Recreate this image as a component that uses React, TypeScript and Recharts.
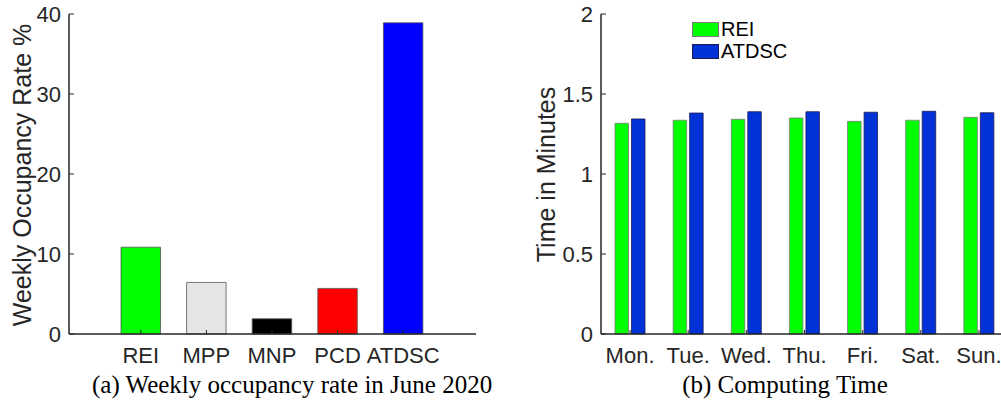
import React from 'react';
import { BarChart, Bar, XAxis, YAxis, Cell } from 'recharts';

// (a) weekly occupancy, June 2020
const methods = ['REI', 'MPP', 'MNP', 'PCD', 'ATDSC'];
const occupancy = [10.85, 6.45, 1.9, 5.7, 38.9];
const methodColors = ['#00ff00', '#e5e5e5', '#000000', '#ff0000', '#0000ff'];
const occupancyTicks = [0, 10, 20, 30, 40];

// (b) computing time
const days = ['Mon.', 'Tue.', 'Wed.', 'Thu.', 'Fri.', 'Sat.', 'Sun.'];
const reiTime = [1.317, 1.336, 1.342, 1.35, 1.329, 1.336, 1.354];
const atdscTime = [1.344, 1.381, 1.389, 1.389, 1.386, 1.392, 1.383];
const timeTicks = [0, 0.5, 1, 1.5, 2];
const timeSeries = [
  { key: 'rei', label: 'REI', fill: '#00ff00', edge: '#7a7a7a' },
  { key: 'atdsc', label: 'ATDSC', fill: '#0032d8', edge: '#1a1a50' },
];

const INK = '#262626';
const SANS = '"Liberation Sans", Arial, Helvetica, sans-serif';
const SERIF = '"Liberation Serif", "Times New Roman", serif';

const occData = methods.map((name, i) => ({ name, value: occupancy[i] }));
const timeData = days.map((day, i) => ({ day, rei: reiTime[i], atdsc: atdscTime[i] }));

const tickStyle = { fill: INK, fontSize: 22, fontFamily: SANS };

const axisTitle = (text: string, x: number, y: number) => () => (
  <text
    x={x}
    y={y}
    transform={`rotate(-90 ${x} ${y})`}
    textAnchor="middle"
    dominantBaseline="central"
    fill={INK}
    fontSize={25}
    fontFamily={SANS}
  >
    {text}
  </text>
);

const TimeLegend = () => (
  <div style={{ position: 'absolute', left: 692, top: 18, fontFamily: SANS, fontSize: 20, color: '#000' }}>
    {timeSeries.map((s) => (
      <div key={s.key} style={{ display: 'flex', alignItems: 'center', height: 22.6 }}>
        <span
          style={{
            display: 'inline-block',
            width: 27,
            height: 15,
            background: s.fill,
            border: `1px solid ${s.edge}`,
            boxSizing: 'border-box',
            marginRight: 2,
          }}
        />
        <span>{s.label}</span>
      </div>
    ))}
  </div>
);

const captionStyle: React.CSSProperties = {
  position: 'absolute',
  top: 371,
  textAlign: 'center',
  fontFamily: SERIF,
  fontSize: 25,
  color: '#000',
  whiteSpace: 'nowrap',
};

export default function App() {
  return (
    <div
      style={{
        position: 'absolute',
        left: 0,
        top: 0,
        width: 1001,
        height: 415,
        overflow: 'hidden',
        background: '#fff',
      }}
    >
      <div style={{ position: 'absolute', left: 0, top: 0 }}>
        <BarChart width={480} height={375} data={occData} margin={{ top: 14, right: 4, left: 0, bottom: 0 }}>
          <Bar dataKey="value" barSize={39.5} stroke="#555" strokeWidth={0.8} isAnimationActive={false}>
            {occData.map((d, i) => (
              <Cell key={d.name} fill={methodColors[i]} />
            ))}
          </Bar>
          <XAxis
            dataKey="name"
            type="category"
            padding={{ left: 39, right: 40 }}
            height={41}
            tickSize={-4}
            tickMargin={17}
            tick={tickStyle}
            axisLine={{ stroke: INK, strokeWidth: 1.5 }}
            tickLine={{ stroke: INK }}
            interval={0}
          />
          <YAxis
            width={69}
            domain={[0, 40]}
            ticks={occupancyTicks}
            tickSize={-5}
            tickMargin={13}
            tick={tickStyle}
            axisLine={{ stroke: INK, strokeWidth: 1.5 }}
            tickLine={{ stroke: INK }}
            label={axisTitle('Weekly Occupancy Rate %', 22, 175)}
          />
        </BarChart>
      </div>

      <div style={{ position: 'absolute', left: 520, top: 0 }}>
        <BarChart
          width={493}
          height={375}
          data={timeData}
          margin={{ top: 14, right: 5, left: 0, bottom: 0 }}
          barGap={3}
        >
          {timeSeries.map((s) => (
            <Bar
              key={s.key}
              dataKey={s.key}
              name={s.label}
              barSize={13.5}
              fill={s.fill}
              stroke={s.edge}
              strokeWidth={0.8}
              isAnimationActive={false}
            />
          ))}
          <XAxis
            dataKey="day"
            type="category"
            padding={{ left: 0, right: 0 }}
            height={41}
            tickSize={-4}
            tickMargin={17}
            tick={tickStyle}
            axisLine={{ stroke: INK, strokeWidth: 1.5 }}
            tickLine={{ stroke: INK }}
            interval={0}
          />
          <YAxis
            width={81}
            domain={[0, 2]}
            ticks={timeTicks}
            tickSize={-5}
            tickMargin={13}
            tick={tickStyle}
            axisLine={{ stroke: INK, strokeWidth: 1.5 }}
            tickLine={{ stroke: INK }}
            label={axisTitle('Time in Minutes', 26, 174.5)}
          />
        </BarChart>
      </div>

      <TimeLegend />

      <div style={{ ...captionStyle, left: 92, width: 400 }}>(a) Weekly occupancy rate in June 2020</div>
      <div style={{ ...captionStyle, left: 635, width: 300 }}>(b) Computing Time</div>
    </div>
  );
}
